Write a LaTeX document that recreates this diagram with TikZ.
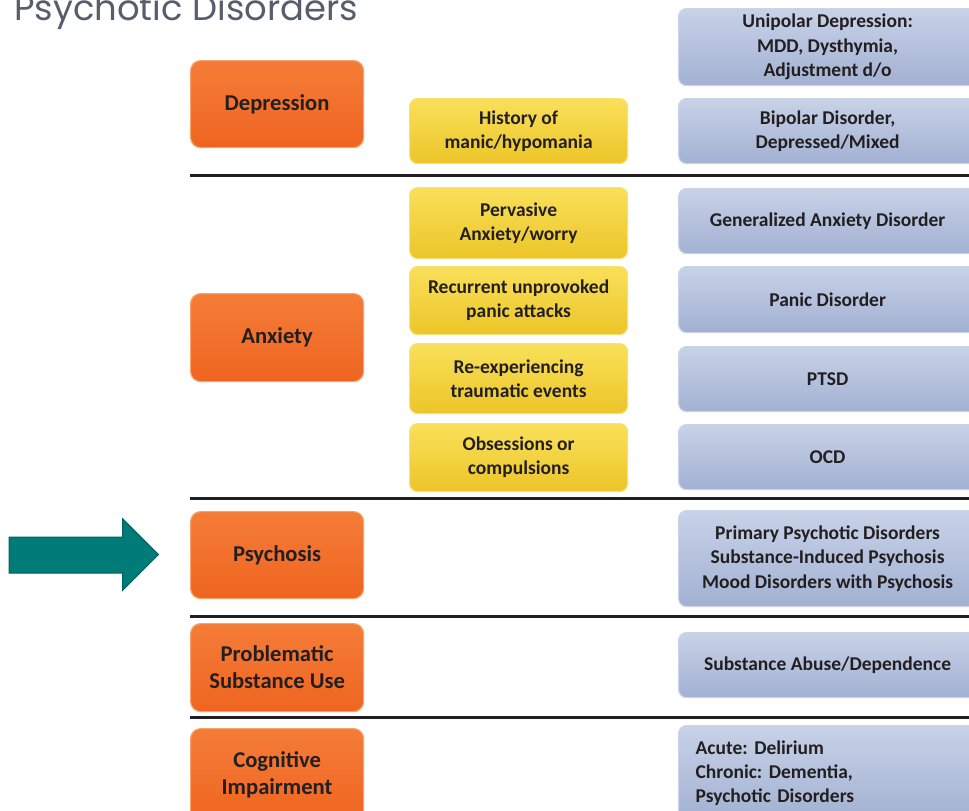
\documentclass[tikz,border=0pt]{standalone}
\usepackage{fontspec}
\setmainfont{Carlito}
\newfontfamily\titlefont{Poppins}
\definecolor{inkc}{HTML}{231F20}
\definecolor{titlec}{HTML}{565E6C}
\definecolor{arrowfill}{HTML}{007B78}
\definecolor{arrowline}{HTML}{005F5D}
\definecolor{orTop}{HTML}{F47C38}
\definecolor{orMid}{HTML}{F26B21}
\definecolor{orBot}{HTML}{EF6520}
\definecolor{orRim}{HTML}{F7A36A}
\definecolor{yeTop}{HTML}{F9E05A}
\definecolor{yeMid}{HTML}{F5D12F}
\definecolor{yeBot}{HTML}{ECC528}
\definecolor{yeRim}{HTML}{F8E278}
\definecolor{blTop}{HTML}{C8D2E8}
\definecolor{blMid}{HTML}{AAB8D8}
\definecolor{blBot}{HTML}{A2B1D2}
\definecolor{blRim}{HTML}{CAD3E7}
\begin{document}
\begin{tikzpicture}[x=1pt,y=-1pt,
  box/.style={anchor=north west, inner sep=0pt, align=center, text=inkc},
  catbox/.style={box, rounded corners=10pt, minimum width=173pt,
    top color=orTop, middle color=orMid, bottom color=orBot,
    draw=orRim, line width=1.2pt,
    font=\bfseries\fontsize{22.6}{27}\selectfont\frenchspacing},
  critbox/.style={box, rounded corners=8pt, minimum width=218pt,
    top color=yeTop, middle color=yeMid, bottom color=yeBot,
    draw=yeRim, line width=1.2pt,
    font=\bfseries\fontsize{19.5}{24}\selectfont\frenchspacing},
  dxbox/.style={box, rounded corners=8pt, minimum width=298pt,
    top color=blTop, middle color=blMid, bottom color=blBot,
    draw=blRim, line width=1.2pt,
    font=\bfseries\fontsize{19.5}{24.3}\selectfont\frenchspacing},
  rule/.style={draw=inkc, line width=3pt}
]
\useasboundingbox (0,0) rectangle (969,811);
\clip (0,0) rectangle (969,811);

% heading
\node[anchor=base west, inner sep=0pt, text=titlec,
  font=\titlefont\fontsize{35.4}{36}\selectfont] (title) at (14,20) {Psychotic Disorders};

% row separators
\draw[rule] (190,175.5) -- (975,175.5);
\draw[rule] (190,498.5) -- (975,498.5);
\draw[rule] (190,616.5) -- (975,616.5);
\draw[rule] (190,717.5) -- (975,717.5);

% presenting problems
\node[catbox, minimum height=87pt] (dep) at (190,60) {Depression};
\node[catbox, minimum height=88pt] (anx) at (190,293) {Anxiety};
\node[catbox, minimum height=87pt] (psy) at (190,511) {Psychosis};
\node[catbox, minimum height=88pt] (sub) at (190,623) {Problematic\\Substance Use};
\node[catbox, minimum height=92pt] (cog) at (190,728) {Cognitive\\Impairment};

% distinguishing features
\node[critbox, minimum height=65pt] (hist) at (409,98) {History of\\manic/hypomania};
\node[critbox, minimum height=71pt] (perv) at (409,187) {Pervasive\\Anxiety/worry};
\node[critbox, minimum height=68pt] (recur) at (409,266) {Recurrent unprovoked\\panic attacks};
\node[critbox, minimum height=70pt] (reexp) at (409,343) {Re-experiencing\\traumatic events};
\node[critbox, minimum height=68pt] (obs) at (409,423) {Obsessions or\\compulsions};

% diagnoses
\node[dxbox, minimum height=77pt] (uni) at (678,8) {Unipolar Depression:\\MDD, Dysthymia,\\Adjustment d/o};
\node[dxbox, minimum height=65pt] (bip) at (678,98) {Bipolar Disorder,\\Depressed/Mixed};
\node[dxbox, minimum height=65pt] (gad) at (678,188) {Generalized Anxiety Disorder};
\node[dxbox, minimum height=66pt] (pd) at (678,266) {Panic Disorder};
\node[dxbox, minimum height=65pt] (ptsd) at (678,346) {PTSD};
\node[dxbox, minimum height=65pt] (ocd) at (678,424) {OCD};
\node[dxbox, minimum height=96pt] (psyd) at (678,510) {Primary Psychotic Disorders\\Substance-Induced Psychosis\\Mood Disorders with Psychosis};
\node[dxbox, minimum height=65pt] (subd) at (678,632) {Substance Abuse/Dependence};
\node[dxbox, minimum height=95pt, align=left, text width=264pt, inner xsep=17pt] (acute) at (678,725)
  {Acute: Delirium\\Chronic: Dementia,\\Psychotic Disorders};

% pointer arrow
\draw[fill=arrowfill, draw=arrowline, line width=1pt]
  (9,537) -- (122.5,537) -- (122.5,518.5) -- (158.5,554.5) -- (122.5,590.5)
  -- (122.5,573) -- (9,573) -- cycle;
\end{tikzpicture}
\end{document}
